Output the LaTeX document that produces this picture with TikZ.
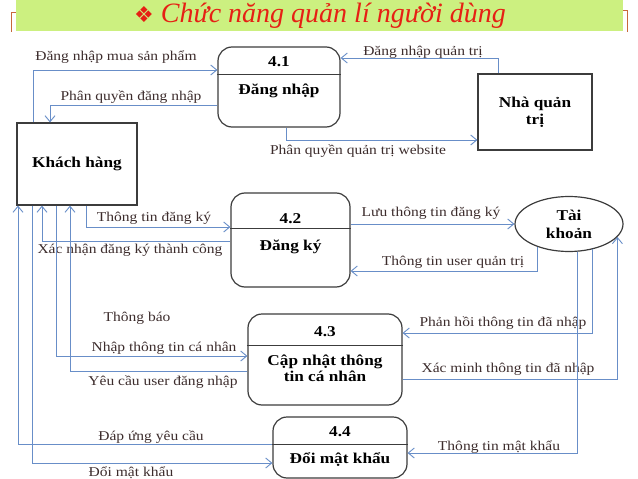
\documentclass[tikz,border=0pt]{standalone}
\usepackage{fontspec}
\setmainfont{Liberation Serif}
\newfontfamily\labfont[FakeStretch=1.15]{Liberation Serif}
\newfontfamily\symfont{DejaVu Sans}
\usetikzlibrary{arrows.meta,positioning,shapes.geometric}
\definecolor{flowblue}{RGB}{104,142,200}
\definecolor{labtext}{RGB}{60,44,44}
\definecolor{barlime}{RGB}{204,240,128}
\definecolor{titlered}{RGB}{230,32,20}
\definecolor{framebrown}{RGB}{200,104,60}
\definecolor{boxgray}{RGB}{60,60,60}
\tikzset{
  ext/.style={rectangle,draw=boxgray,line width=1.2pt,inner sep=0pt,align=center,font=\labfont\fontsize{15}{17}\selectfont\bfseries},
  datastore/.style={ellipse,draw=boxgray,line width=1.2pt,inner sep=0pt,align=center,minimum width=108pt,minimum height=55pt,font=\labfont\fontsize{15}{18}\selectfont\bfseries},
  proc/.style={rectangle,rounded corners=14pt,draw=boxgray,line width=1.2pt,inner sep=0pt},
  pnum/.style={inner sep=0pt,font=\labfont\fontsize{15}{17}\selectfont\bfseries},
  pname/.style={inner sep=0pt,align=center,font=\labfont\fontsize{15}{16}\selectfont\bfseries},
  pdiv/.style={line width=1pt,boxgray},
  flow/.style={line width=0.9pt,flowblue,-{Straight Barb[length=6pt,width=10pt]}},
  lab/.style={inner sep=0pt,text=labtext,font=\labfont\fontsize{13.5}{15}\selectfont},
  titlebar/.style={fill=barlime,inner sep=0pt},
  titletext/.style={inner sep=0pt,text=titlered,font=\fontsize{28}{30}\selectfont\itshape},
  slideframe/.style={line width=0.9pt,framebrown}
}
\begin{document}
\begin{tikzpicture}[x=1pt,y=-1pt]
  \useasboundingbox (0,0) rectangle (638,479);

  % title
  \node[titlebar,minimum width=607pt,minimum height=31pt] (bar) at (319.5,15.5) {};
  \node[titletext] (ttl) at (320,16) {{\symfont\fontsize{22}{24}\selectfont ❖} Chức năng quản lí người dùng};
  \draw[slideframe] (bar.west |- 0,12) -| (11,32);
  \draw[slideframe] (bar.east |- 0,10) -| (627,32);

  % entities and store
  \node[ext,minimum width=120pt,minimum height=82pt] (kh) at (77,164) {Khách hàng};
  \node[ext,minimum width=114pt,minimum height=76pt] (nq) at (535,112) {Nhà quản\\trị};
  \node[datastore] (tk) at (569,224) {Tài\\khoản};

  % processes
  \node[proc,minimum width=122pt,minimum height=80pt] (p1) at (279,87) {};
  \node[pnum] (n1) at (279,62) {4.1};
  \node[pname] (t1) at (279,91) {Đăng nhập};
  \draw[pdiv] (p1.west |- 0,74) -- (p1.east |- 0,74);

  \node[proc,minimum width=119pt,minimum height=94pt] (p2) at (290.5,240) {};
  \node[pnum] (n2) at (290.5,219) {4.2};
  \node[pname] (t2) at (290.5,247) {Đăng ký};
  \draw[pdiv] (p2.west |- 0,228) -- (p2.east |- 0,228);

  \node[proc,minimum width=154pt,minimum height=91pt] (p3) at (325,359.5) {};
  \node[pnum] (n3) at (325,332) {4.3};
  \node[pname] (t3) at (325,368) {Cập nhật thông\\tin cá nhân};
  \draw[pdiv] (p3.west |- 0,345) -- (p3.east |- 0,345);

  \node[proc,minimum width=134pt,minimum height=61pt] (p4) at (340,447.5) {};
  \node[pnum] (n4) at (340,432) {4.4};
  \node[pname] (t4) at (340,460) {Đổi mật khẩu};
  \draw[pdiv] (p4.west |- 0,444) -- (p4.east |- 0,444);

  % flows around 4.1
  \draw[flow] (kh.north -| 33,0) |- (p1.west |- 0,70);
  \draw[flow] (p1.west |- 0,105) -| (kh.north -| 50,0);
  \draw[flow] (nq.north -| 498,0) |- (p1.east |- 0,58);
  \draw[flow] (p1.south -| 286,0) |- (nq.west |- 0,140);
  \node[lab] (l1) at (116,57) {Đăng nhập mua sản phẩm};
  \node[lab] (l2) at (131,97) {Phân quyền đăng nhập};
  \node[lab] (l3) at (423,52) {Đăng nhập quản trị};
  \node[lab] (l4) at (358,151) {Phân quyền quản trị website};

  % flows around 4.2
  \draw[flow] (kh.south -| 86,0) |- (p2.west |- 0,227);
  \draw[flow] (p2.west |- 0,241) -| (kh.south -| 42,0);
  \draw[flow] (p2.east |- tk.west) -- (tk.west);
  \draw[flow] (tk.216) |- (p2.east |- 0,271);
  \node[lab] (l5) at (154,218) {Thông tin đăng ký};
  \node[lab] (l6) at (130,250) {Xác nhận đăng ký thành công};
  \node[lab] (l7) at (431,213) {Lưu thông tin đăng ký};
  \node[lab] (l8) at (453,262) {Thông tin user quản trị};

  % flows around 4.3
  \draw[flow] (kh.south -| 56,0) |- (p3.west |- 0,356);
  \draw[flow] (p3.west |- 0,371) -| (kh.south -| 70,0);
  \draw[flow] (tk.313) |- (p3.east |- 0,333);
  \draw[flow] (p3.east |- 0,379) -| (tk.345);
  \node[lab] (l9) at (137,318) {Thông báo};
  \node[lab] (l10) at (164,348) {Nhập thông tin cá nhân};
  \node[lab] (l11) at (163,382) {Yêu cầu user đăng nhập};
  \node[lab] (l12) at (503,323) {Phản hồi thông tin đã nhập};
  \node[lab] (l13) at (508,369) {Xác minh thông tin đã nhập};

  % flows around 4.4
  \draw[flow] (p4.west |- 0,444) -| (kh.south -| 18,0);
  \draw[flow] (kh.south -| 32,0) |- (p4.west |- 0,463);
  \draw[flow] (tk.286) |- (p4.east |- 0,453);
  \node[lab] (l14) at (151,437) {Đáp ứng yêu cầu};
  \node[lab] (l15) at (131,473) {Đổi mật khẩu};
  \node[lab] (l16) at (499,447) {Thông tin mật khẩu};
\end{tikzpicture}
\end{document}
